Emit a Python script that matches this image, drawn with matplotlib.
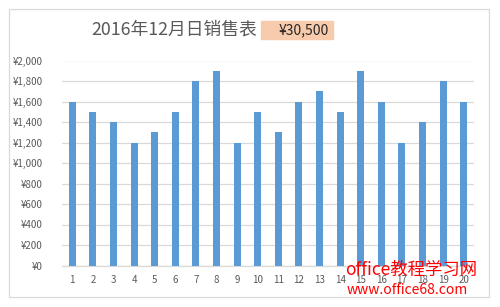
import matplotlib.pyplot as plt
from matplotlib.patches import Rectangle

plt.rcParams['font.family'] = ['Noto Sans CJK SC', 'DejaVu Sans']

days = list(range(1, 21))
sales = [1600, 1500, 1400, 1200, 1300, 1500, 1800, 1900, 1200, 1500,
         1300, 1600, 1700, 1500, 1900, 1600, 1200, 1400, 1800, 1600]
y_ticks = [0, 200, 400, 600, 800, 1000, 1200, 1400, 1600, 1800, 2000]
title = "2016年12月日销售表"
total_label = "¥{:,}".format(sum(sales))

W, H = 500, 307
fig = plt.figure(figsize=(W / 100, H / 100), dpi=100)

# chart frame
fig.patches.append(Rectangle((9 / W, 1 - 297 / H), 480 / W, 288 / H,
                             transform=fig.transFigure, fill=False,
                             edgecolor="#D9D9D9", linewidth=0.9))

ax = fig.add_axes([62 / W, 1 - 265.5 / H, 412 / W, 205 / H])
ax.bar(days, sales, width=0.34, color="#5B9BD5", zorder=3)
ax.set_xlim(0.5, 20.5)
ax.set_ylim(0, 2000)
ax.set_yticks(y_ticks)
ax.set_yticklabels(["¥{:,}".format(v) for v in y_ticks])
ax.set_xticks(days)
ax.grid(axis="y", color="#D9D9D9", linewidth=0.9, zorder=0)
for s in ["top", "right", "left"]:
    ax.spines[s].set_visible(False)
ax.spines["bottom"].set_color("#D9D9D9")
ax.spines["bottom"].set_linewidth(0.9)
ax.tick_params(axis="y", length=0, pad=14, labelsize=7, labelcolor="#595959")
ax.tick_params(axis="x", length=0, pad=7, labelsize=7, labelcolor="#595959")

# title and total box
fig.text(91 / W, 1 - 30 / H, title, fontsize=12.8, color="#595959",
         ha="left", va="center")
fig.patches.append(Rectangle((261 / W, 1 - 39 / H), 72 / W, 18 / H,
                             transform=fig.transFigure, color="#F8CBAD"))
fig.text(329 / W, 1 - 30 / H, total_label, fontsize=10, color="#262626",
         ha="right", va="center")

# watermark
fig.text(345 / W, 1 - 270 / H, "office教程学习网", fontsize=12.5,
         color="#FF0000", ha="left", va="center")
fig.text(347 / W, 1 - 290 / H, "www.office68.com", fontsize=10,
         color="#FF0000", ha="left", va="center")

fig.savefig("out.png", dpi=100)
